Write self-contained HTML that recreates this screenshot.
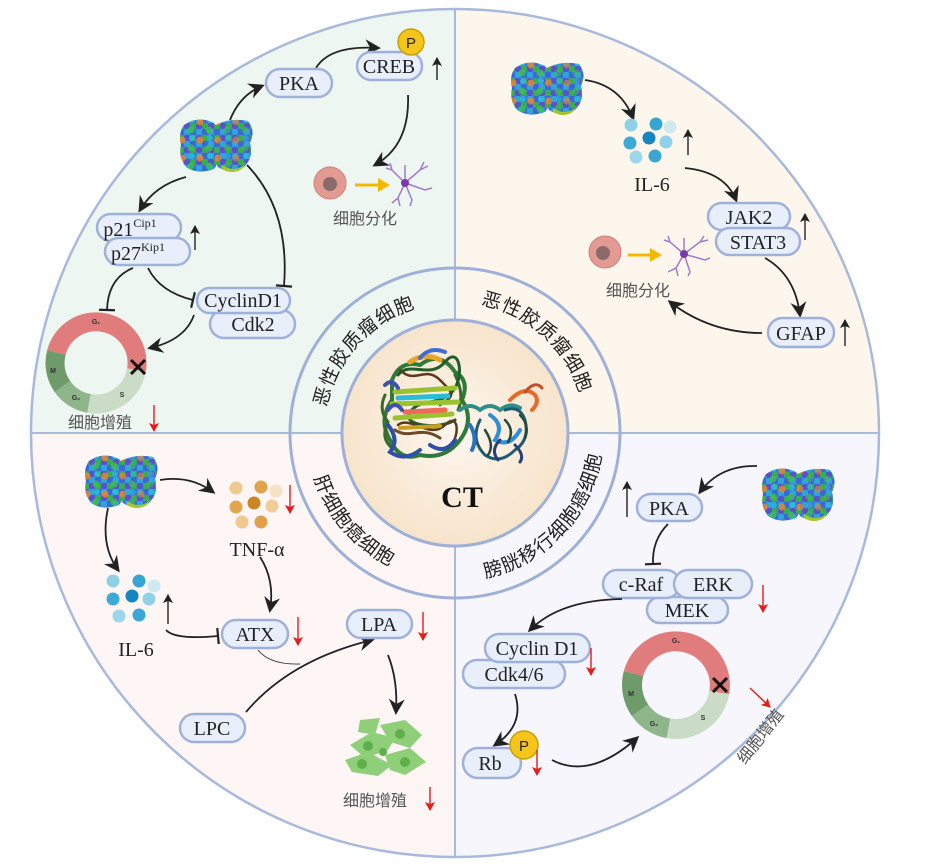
<!DOCTYPE html>
<html><head><meta charset="utf-8"><style>
html,body{margin:0;padding:0;background:#fff;}
svg{display:block;}
.lb{font-family:"Liberation Serif",serif;font-size:20px;fill:#222;text-anchor:middle;}
.cn{font-family:"Liberation Sans","Noto Sans CJK SC",sans-serif;font-size:16px;fill:#555;}
.rt{font-family:"Liberation Sans","Noto Sans CJK SC",sans-serif;font-size:19px;fill:#222;}
.bx{fill:#e8eefa;stroke:#9fb1da;stroke-width:2.5;}
.ar{fill:none;stroke:#222;stroke-width:1.8;}
.up{stroke:#222;stroke-width:1.4;}
.dn{stroke:#e51c1c;stroke-width:1.4;}
</style></head><body>
<svg width="933" height="868" viewBox="0 0 933 868" xmlns="http://www.w3.org/2000/svg">
<defs>
<marker id="ah" markerWidth="18" markerHeight="16" refX="13" refY="8" orient="auto" markerUnits="userSpaceOnUse"><path d="M0,0 L16,8 L0,16 L5,8z" fill="#222"/></marker>
<marker id="ahs" markerWidth="10" markerHeight="10" refX="8" refY="5" orient="auto" markerUnits="userSpaceOnUse"><path d="M0,0 L9,5 L0,10 L2,5z" fill="#222"/></marker>
<marker id="ahr" markerWidth="10" markerHeight="10" refX="8" refY="5" orient="auto" markerUnits="userSpaceOnUse"><path d="M0,0 L9,5 L0,10 L2,5z" fill="#e51c1c"/></marker>
<marker id="inh" markerWidth="4" markerHeight="16" refX="2" refY="8" orient="auto" markerUnits="userSpaceOnUse"><path d="M2,0 L2,16" stroke="#222" stroke-width="2.2"/></marker>
<pattern id="atoms" width="12" height="12" patternUnits="userSpaceOnUse">
<rect width="12" height="12" fill="#3f7fd6"/>
<circle cx="3" cy="3" r="3.2" fill="#3a66d8"/><circle cx="9" cy="3" r="3.2" fill="#2fa6d9"/>
<circle cx="3" cy="9" r="3.2" fill="#35b04a"/><circle cx="9" cy="9" r="3.2" fill="#5a4fd0"/>
</pattern>
<pattern id="atoms2" width="18" height="18" patternUnits="userSpaceOnUse">
<circle cx="4" cy="5" r="3.5" fill="#e8852a"/><circle cx="13" cy="13" r="3.5" fill="#3fbd52"/><circle cx="14" cy="3" r="3" fill="#27c0d8"/>
</pattern>
<symbol id="prot" viewBox="0 0 76 56">
<path d="M6,8 Q20,-2 36,6 Q44,14 38,28 Q44,42 36,52 Q20,58 8,50 Q0,40 3,28 Q0,16 6,8z" fill="url(#atoms)"/>
<path d="M34,10 Q50,0 70,4 Q78,14 72,26 Q76,40 66,50 Q52,58 40,50 Q34,40 38,28 Q32,18 34,10z" fill="url(#atoms)"/>
<path d="M6,8 Q20,-2 36,6 Q44,14 38,28 Q44,42 36,52 Q20,58 8,50 Q0,40 3,28 Q0,16 6,8z" fill="url(#atoms2)" opacity=".85"/>
<path d="M34,10 Q50,0 70,4 Q78,14 72,26 Q76,40 66,50 Q52,58 40,50 Q34,40 38,28 Q32,18 34,10z" fill="url(#atoms2)" opacity=".6"/>
<path d="M44,48 Q56,56 66,48 L64,52 Q54,58 44,52z" fill="#a8c52a"/>
</symbol>
<radialGradient id="cg" cx="50%" cy="50%" r="50%"><stop offset="0" stop-color="#fdf6ee"/><stop offset="1" stop-color="#f7e4cc"/></radialGradient>
<path id="pTL" d="M324,433 A131,131 0 0 1 455,302"/>
<path id="pTR" d="M455,302 A131,131 0 0 1 586,433"/>
<path id="pBL" d="M307,433 A148,148 0 0 0 455,581"/>
<path id="pBR" d="M455,581 A148,148 0 0 0 603,433"/>
</defs>

<path d="M455,433 L31,433 A424,424 0 0 1 455,9z" fill="#eef6f2"/>
<path d="M455,433 L455,9 A424,424 0 0 1 879,433z" fill="#fdf6ec"/>
<path d="M455,433 L31,433 A424,424 0 0 0 455,857z" fill="#fdf6f5"/>
<path d="M455,433 L455,857 A424,424 0 0 0 879,433z" fill="#f6f6fc"/>
<circle cx="455" cy="433" r="424" fill="none" stroke="#a9b9dc" stroke-width="2.5"/>
<line x1="455" y1="9" x2="455" y2="857" stroke="#a9b9dc" stroke-width="2"/>
<line x1="31" y1="433" x2="879" y2="433" stroke="#a9b9dc" stroke-width="2"/>
<circle cx="455" cy="433" r="165" fill="none" stroke="#9fb0d8" stroke-width="3"/>
<circle cx="455" cy="433" r="113" fill="url(#cg)" stroke="#9fb0d8" stroke-width="3"/>

<text class="rt"><textPath href="#pTL" startOffset="46.7%" text-anchor="middle" letter-spacing="1">恶性胶质瘤细胞</textPath></text>
<text class="rt"><textPath href="#pTR" startOffset="46.7%" text-anchor="middle" letter-spacing="1">恶性胶质瘤细胞</textPath></text>
<text class="rt"><textPath href="#pBL" startOffset="45.5%" text-anchor="middle" letter-spacing="1">肝细胞癌细胞</textPath></text>
<text class="rt"><textPath href="#pBR" startOffset="52%" text-anchor="middle" letter-spacing="1">膀胱移行细胞癌细胞</textPath></text>

<g fill="none" stroke-width="3" stroke-linecap="round">
<path d="M392,380 Q400,360 420,365 Q440,350 455,372 Q470,380 462,400 Q475,420 460,440 Q445,460 420,455 Q400,462 390,440 Q378,420 392,400z" stroke="#2f7a3a" stroke-width="4"/>
<path d="M385,395 Q378,410 388,422 Q380,438 392,448 M455,375 Q465,395 458,410" stroke="#3a6a2a" stroke-width="3"/>
<path d="M398,375 C410,360 430,380 445,362 S465,378 452,392 S420,398 410,412 S440,430 455,420" stroke="#1f5e2a"/>
<path d="M400,370 C415,385 425,365 440,380 S455,395 440,405 M398,425 C410,415 430,440 445,425 S460,440 448,448" stroke="#5a3a1a" stroke-width="2.5"/>
<path d="M395,392 L455,388 M392,404 L458,402 M395,418 L452,414" stroke="#9bc22e" stroke-width="5"/>
<path d="M398,398 L448,396" stroke="#2bbcd6" stroke-width="5"/>
<path d="M405,412 L445,410" stroke="#ef6a5a" stroke-width="5"/>
<path d="M400,428 L440,426" stroke="#c8a020" stroke-width="4"/>
<path d="M410,362 Q425,352 440,360" stroke="#e8a52a" stroke-width="5"/>
<path d="M420,358 Q430,346 445,352" stroke="#3d6fd0" stroke-width="4"/>
<path d="M388,425 Q400,440 390,452 Q405,462 420,450 M430,445 Q445,455 455,440" stroke="#2d4fa8" stroke-width="4"/>
<path d="M395,430 C410,440 420,425 440,438" stroke="#6b4a2a"/>
<path d="M385,385 Q392,378 398,388 M388,410 Q395,400 402,410" stroke="#4050b0" stroke-width="4"/>
<path d="M460,410 Q470,402 480,410 Q490,402 500,410 Q510,402 520,408" stroke="#2e8f8a" stroke-width="4"/>
<path d="M480,420 Q470,440 485,455 Q500,465 515,450 Q530,440 525,420 Q520,405 505,410" stroke="#1f5a70" stroke-width="3"/>
<path d="M490,415 Q505,425 495,440 Q510,448 520,430" stroke="#2f8fd6" stroke-width="4"/>
<path d="M485,430 Q495,445 488,455 M505,420 Q515,430 508,442 M520,415 Q530,425 525,438" stroke="#234a3a" stroke-width="2.5"/>
<path d="M510,400 Q525,385 535,395 Q540,402 532,410" stroke="#e86a2a" stroke-width="4"/>
<path d="M525,392 Q535,380 542,388" stroke="#c0502a" stroke-width="3"/>
<path d="M500,440 Q490,450 498,460 M515,445 Q525,455 520,462" stroke="#2a3f7a" stroke-width="3"/>
<path d="M470,425 Q478,438 472,450" stroke="#2a6fc0" stroke-width="4"/>
</g>
<text x="462" y="507" font-family="Liberation Serif,serif" font-weight="bold" font-size="30" text-anchor="middle" fill="#111">CT</text>

<use href="#prot" x="178" y="117" width="76" height="56"/>
<use href="#prot" x="509" y="60" width="76" height="56"/>
<use href="#prot" x="83" y="453" width="76" height="56"/>
<use href="#prot" x="760" y="466" width="76" height="56"/>

<!-- TL -->
<path class="ar" d="M230,120 Q240,95 262,86" marker-end="url(#ah)"/>
<path class="ar" d="M316,68 Q330,45 378,48" marker-end="url(#ah)"/>
<path class="ar" d="M408,95 Q410,145 375,165" marker-end="url(#ah)"/>
<path class="ar" d="M186,177 Q155,185 140,210" marker-end="url(#ah)"/>
<path class="ar" d="M247,165 Q290,210 284,286" marker-end="url(#inh)"/>
<path class="ar" d="M133,268 Q108,278 107,310" marker-end="url(#inh)"/>
<path class="ar" d="M148,268 Q160,292 193,300" marker-end="url(#inh)"/>
<path class="ar" d="M194,315 Q185,340 150,348" marker-end="url(#ah)"/>
<rect class="bx" x="266" y="69" width="66" height="28" rx="14"/><text class="lb" x="299" y="90">PKA</text>
<rect class="bx" x="357" y="52" width="65" height="28" rx="14"/><text class="lb" x="389" y="73">CREB</text>
<circle cx="411" cy="42" r="13" fill="#f6c51b" stroke="#c9a000" stroke-width="1.5"/><text x="411" y="48" font-family="Liberation Sans,sans-serif" font-size="15" text-anchor="middle" fill="#222">P</text>
<line class="up" x1="437" y1="80" x2="437" y2="58" marker-end="url(#ahs)"/>
<circle cx="330" cy="183" r="16" fill="#e39a93" stroke="#d08078"/><circle cx="330" cy="184" r="7" fill="#8a6a6a"/>
<line x1="355" y1="185" x2="380" y2="185" stroke="#f5b800" stroke-width="3"/><path d="M378,178 L390,185 L378,192z" fill="#f5b800"/>
<g stroke="#a07cc8" stroke-width="1.5" fill="none"><path d="M405,183 L392,170 M392,170 L386,168 M392,170 L390,163 M405,183 L420,170 L428,166 M420,170 L424,162 M405,183 L425,190 L432,188 M405,183 L398,198 L392,203 M398,198 L400,206 M405,183 L412,200 L410,206 M405,183 L405,165"/></g>
<circle cx="405" cy="183" r="4" fill="#7a3aa8"/>
<text class="cn" x="333" y="224">细胞分化</text>
<rect class="bx" x="97" y="214" width="84" height="27" rx="13.5"/>
<text class="lb" x="130" y="236">p21<tspan font-size="12" dy="-9">Cip1</tspan></text>
<rect class="bx" x="105" y="238" width="85" height="27" rx="13.5"/>
<text class="lb" x="138" y="260">p27<tspan font-size="12" dy="-9">Kip1</tspan></text>
<line class="up" x1="195" y1="250" x2="195" y2="226" marker-end="url(#ahs)"/>
<rect class="bx" x="210" y="310" width="85" height="28" rx="14"/><text class="lb" x="253" y="331">Cdk2</text>
<rect class="bx" x="197" y="288" width="93" height="25" rx="12.5"/><text class="lb" x="243" y="307">CyclinD1</text>
<g fill="none" stroke-width="19">
<path d="M56.4,352.4 A41,41 0 0 1 136.4,370.1" stroke="#e07c7c"/>
<path d="M136.4,370.1 A41,41 0 0 1 88.9,403.4" stroke="#cadcc6"/>
<path d="M88.9,403.4 A41,41 0 0 1 62.4,386.5" stroke="#8fb58a"/>
<path d="M62.4,386.5 A41,41 0 0 1 56.4,352.4" stroke="#6f9a6a"/>
</g>
<g font-family="Liberation Sans,sans-serif" font-size="7" font-weight="bold" fill="#333" text-anchor="middle"><text x="96" y="324">G₁</text><text x="122" y="397">S</text><text x="76" y="400">G₂</text><text x="53" y="373">M</text></g>
<path d="M131,360 L145,374 M145,360 L131,374" stroke="#111" stroke-width="3"/>
<text class="cn" x="68" y="428">细胞增殖</text>
<line class="dn" x1="154" y1="405" x2="154" y2="431" marker-end="url(#ahr)"/>

<!-- TR -->
<path class="ar" d="M585,80 Q620,85 633,118" marker-end="url(#ah)"/>
<g>
<circle cx="631" cy="125" r="6.5" fill="#8fd0e6"/><circle cx="656" cy="124" r="6.5" fill="#36a5d2"/><circle cx="670" cy="127" r="6.5" fill="#cfe9ef"/>
<circle cx="630" cy="143" r="6.5" fill="#3fa9d6"/><circle cx="649" cy="138" r="6.5" fill="#1685c0"/><circle cx="666" cy="142" r="6.5" fill="#8fd2e8"/>
<circle cx="636" cy="157" r="6.5" fill="#9cd6ea"/><circle cx="655" cy="156" r="6.5" fill="#3aa6d4"/></g>
<line class="up" x1="688" y1="155" x2="688" y2="130" marker-end="url(#ahs)"/>
<text class="lb" x="652" y="191">IL-6</text>
<path class="ar" d="M685,168 Q725,172 736,200" marker-end="url(#ah)"/>
<rect class="bx" x="708" y="203" width="82" height="27" rx="13.5"/><text class="lb" x="749" y="224">JAK2</text>
<rect class="bx" x="716" y="228" width="84" height="27" rx="13.5"/><text class="lb" x="758" y="249">STAT3</text>
<line class="up" x1="805" y1="240" x2="805" y2="214" marker-end="url(#ahs)"/>
<path class="ar" d="M765,258 Q795,275 800,315" marker-end="url(#ah)"/>
<rect class="bx" x="768" y="318" width="66" height="29" rx="14.5"/><text class="lb" x="801" y="340">GFAP</text>
<line class="up" x1="845" y1="346" x2="845" y2="320" marker-end="url(#ahs)"/>
<path class="ar" d="M762,333 Q710,333 670,302" marker-end="url(#ah)"/>
<circle cx="605" cy="252" r="16" fill="#e39a93" stroke="#d08078"/><circle cx="603" cy="253" r="7" fill="#8a6a6a"/>
<line x1="628" y1="255" x2="652" y2="255" stroke="#f5b800" stroke-width="3"/><path d="M650,248 L662,255 L650,262z" fill="#f5b800"/>
<g stroke="#a07cc8" stroke-width="1.5" fill="none"><path d="M684,254 L670,242 L664,240 M670,242 L668,236 M684,254 L700,242 L708,240 M700,242 L704,236 M684,254 L705,260 L710,258 M684,254 L676,268 L668,272 M676,268 L678,276 M684,254 L690,272 L688,276 M684,254 L684,238"/></g>
<circle cx="684" cy="254" r="4" fill="#7a3aa8"/>
<text class="cn" x="606" y="296">细胞分化</text>

<!-- BL -->
<path class="ar" d="M160,480 Q190,475 213,492" marker-end="url(#ah)"/>
<path class="ar" d="M108,508 Q100,545 118,570" marker-end="url(#ah)"/>
<g>
<circle cx="236" cy="488" r="6.5" fill="#f0c98e"/><circle cx="261" cy="487" r="6.5" fill="#e0a24a"/><circle cx="276" cy="491" r="6.5" fill="#f6e3c6"/>
<circle cx="236" cy="507" r="6.5" fill="#e3a650"/><circle cx="254" cy="503" r="6.5" fill="#cc8520"/><circle cx="272" cy="506" r="6.5" fill="#f0cc96"/>
<circle cx="242" cy="522" r="6.5" fill="#f0c890"/><circle cx="261" cy="522" r="6.5" fill="#e0a04a"/></g>
<line class="dn" x1="290" y1="485" x2="290" y2="513" marker-end="url(#ahr)"/>
<text class="lb" x="257" y="556">TNF-α</text>
<g>
<circle cx="113" cy="581" r="6.5" fill="#8fd0e6"/><circle cx="139" cy="581" r="6.5" fill="#36a5d2"/><circle cx="154" cy="586" r="6.5" fill="#cfe9ef"/>
<circle cx="113" cy="599" r="6.5" fill="#3fa9d6"/><circle cx="132" cy="596" r="6.5" fill="#1685c0"/><circle cx="149" cy="599" r="6.5" fill="#8fd2e8"/>
<circle cx="119" cy="616" r="6.5" fill="#9cd6ea"/><circle cx="139" cy="615" r="6.5" fill="#3aa6d4"/></g>
<line class="up" x1="168" y1="624" x2="168" y2="595" marker-end="url(#ahs)"/>
<text class="lb" x="136" y="656">IL-6</text>
<path class="ar" d="M166,630 Q175,640 218,636" marker-end="url(#inh)"/>
<path class="ar" d="M260,557 Q275,580 270,610" marker-end="url(#ah)"/>
<path fill="none" stroke="#333" stroke-width="1" d="M258,650 Q270,665 300,664"/>
<path class="ar" d="M246,712 Q290,660 372,640" marker-end="url(#ah)"/>
<path class="ar" d="M388,655 Q398,680 396,712" marker-end="url(#ah)"/>
<rect class="bx" x="222" y="620" width="66" height="28" rx="14"/><text class="lb" x="255" y="641">ATX</text>
<line class="dn" x1="298" y1="617" x2="298" y2="645" marker-end="url(#ahr)"/>
<rect class="bx" x="347" y="610" width="65" height="28" rx="14"/><text class="lb" x="379" y="631">LPA</text>
<line class="dn" x1="423" y1="612" x2="423" y2="640" marker-end="url(#ahr)"/>
<rect class="bx" x="180" y="714" width="65" height="28" rx="14"/><text class="lb" x="212" y="735">LPC</text>
<g fill="#8fcf7a">
<path d="M350,745 L372,732 L395,738 L388,750 L365,758z"/><path d="M380,725 L405,720 L422,735 L410,748 L390,742z"/>
<path d="M345,760 L368,752 L392,765 L378,776 L352,772z"/><path d="M385,755 L410,748 L426,762 L405,775 L390,770z"/>
<path d="M360,720 L380,718 L375,735 L358,732z"/></g>
<g fill="#5fb04a"><circle cx="368" cy="746" r="5"/><circle cx="400" cy="734" r="5"/><circle cx="362" cy="764" r="5"/><circle cx="405" cy="762" r="5"/><circle cx="383" cy="752" r="4"/></g>
<text class="cn" x="343" y="806">细胞增殖</text>
<line class="dn" x1="430" y1="787" x2="430" y2="810" marker-end="url(#ahr)"/>

<!-- BR -->
<path class="ar" d="M757,466 Q720,465 700,492" marker-end="url(#ah)"/>
<rect class="bx" x="637" y="494" width="65" height="27" rx="13.5"/><text class="lb" x="669" y="515">PKA</text>
<line class="up" x1="627" y1="517" x2="627" y2="482" marker-end="url(#ahs)"/>
<path class="ar" d="M668,524 Q652,540 653,564" marker-end="url(#inh)"/>
<rect class="bx" x="647" y="597" width="81" height="26" rx="13"/><text class="lb" x="687" y="617">MEK</text>
<rect class="bx" x="603" y="570" width="77" height="28" rx="14"/><text class="lb" x="641" y="591">c-Raf</text>
<rect class="bx" x="674" y="570" width="78" height="28" rx="14"/><text class="lb" x="713" y="591">ERK</text>
<line class="dn" x1="763" y1="585" x2="763" y2="612" marker-end="url(#ahr)"/>
<path class="ar" d="M622,599 Q560,600 530,630" marker-end="url(#ah)"/>
<rect class="bx" x="463" y="660" width="102" height="28" rx="14"/><text class="lb" x="514" y="681">Cdk4/6</text>
<rect class="bx" x="485" y="634" width="105" height="28" rx="14"/><text class="lb" x="537" y="655">Cyclin D1</text>
<line class="dn" x1="591" y1="648" x2="591" y2="675" marker-end="url(#ahr)"/>
<path class="ar" d="M515,694 Q525,725 495,745" marker-end="url(#ah)"/>
<rect class="bx" x="463" y="748" width="58" height="30" rx="15"/><text class="lb" x="490" y="770">Rb</text>
<circle cx="524" cy="745" r="14" fill="#f6c51b" stroke="#c9a000" stroke-width="1.5"/><text x="524" y="751" font-family="Liberation Sans,sans-serif" font-size="15" text-anchor="middle" fill="#222">P</text>
<line class="dn" x1="537" y1="750" x2="537" y2="775" marker-end="url(#ahr)"/>
<path class="ar" d="M552,760 Q590,780 637,738" marker-end="url(#ah)"/>
<g fill="none" stroke-width="20">
<path d="M633.5,673.6 A44,44 0 0 1 719.3,692.6" stroke="#e07c7c"/>
<path d="M719.3,692.6 A44,44 0 0 1 668.4,728.3" stroke="#cadcc6"/>
<path d="M668.4,728.3 A44,44 0 0 1 640,710.2" stroke="#8fb58a"/>
<path d="M640,710.2 A44,44 0 0 1 633.5,673.6" stroke="#6f9a6a"/>
</g>
<g font-family="Liberation Sans,sans-serif" font-size="7" font-weight="bold" fill="#333" text-anchor="middle"><text x="676" y="643">G₁</text><text x="703" y="720">S</text><text x="654" y="726">G₂</text><text x="631" y="696">M</text></g>
<path d="M713,678 L727,692 M727,678 L713,692" stroke="#111" stroke-width="3"/>
<line class="dn" x1="750" y1="688" x2="770" y2="707" marker-end="url(#ahr)"/>
<text class="cn" x="0" y="0" transform="translate(745,765) rotate(-52)">细胞增殖</text>
</svg>
</body></html>
